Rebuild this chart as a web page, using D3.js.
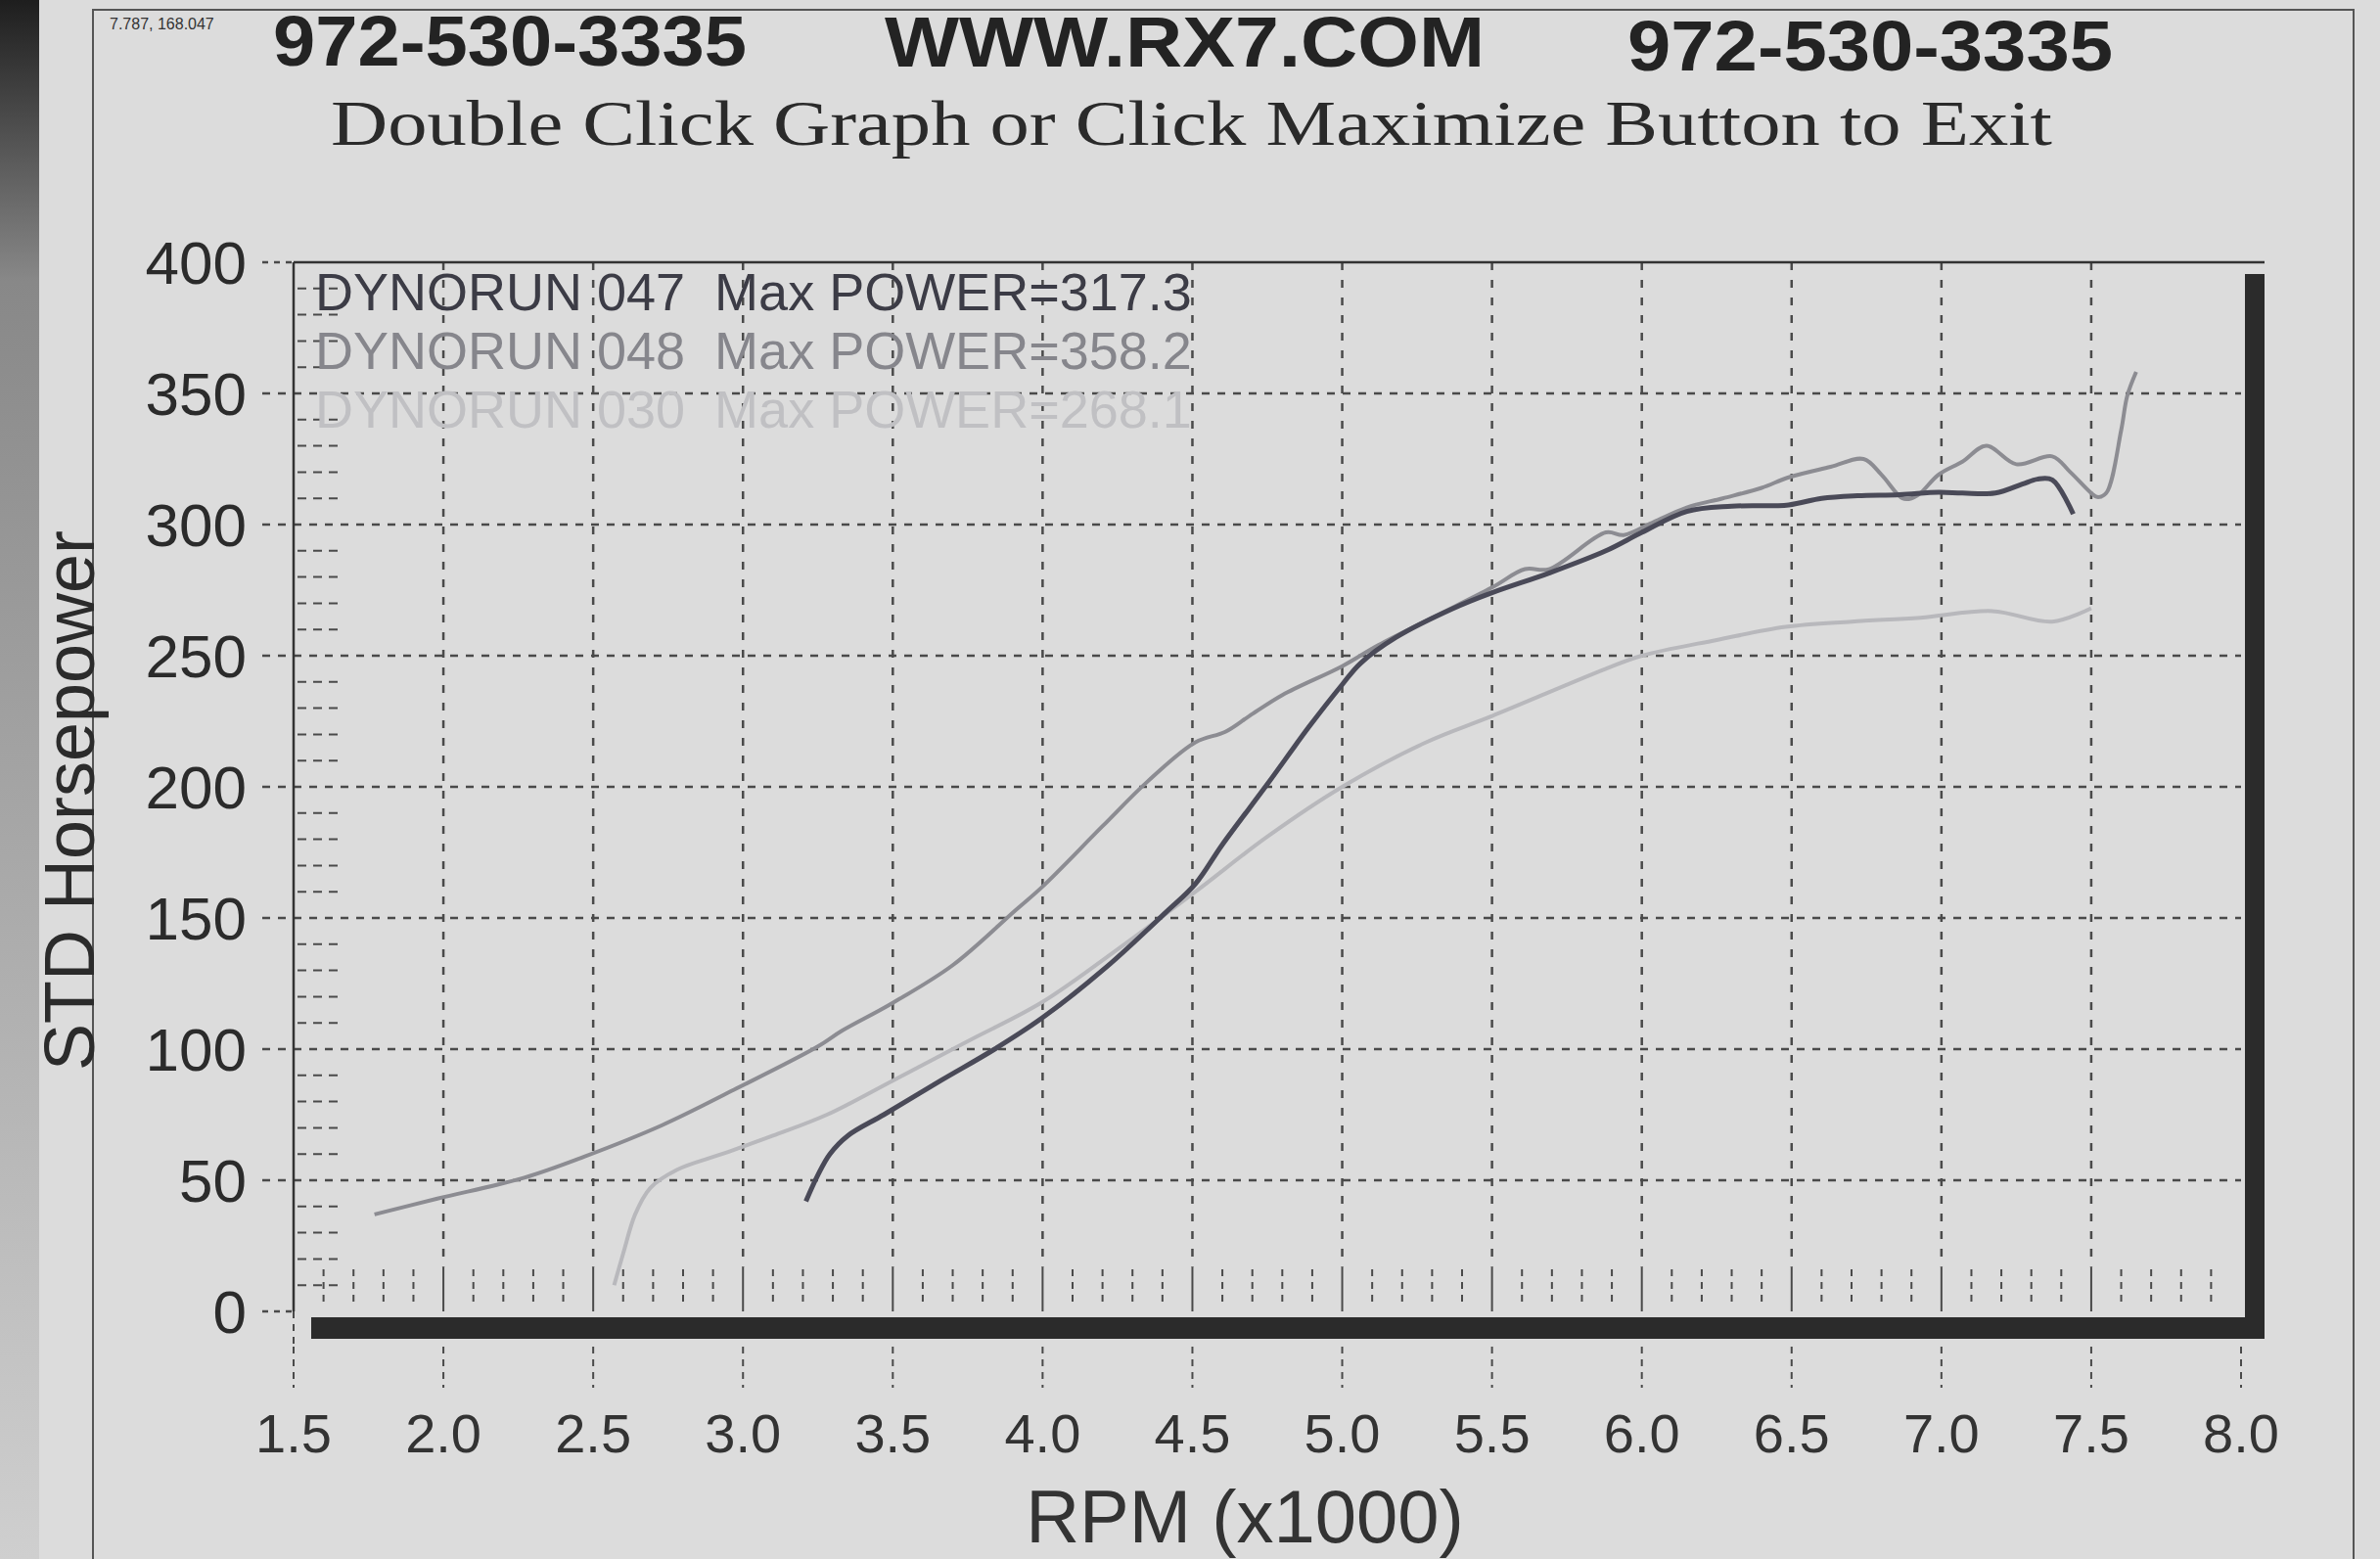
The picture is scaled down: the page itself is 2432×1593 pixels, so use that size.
<!DOCTYPE html>
<html>
<head>
<meta charset="utf-8">
<script src="https://cdnjs.cloudflare.com/ajax/libs/d3/7.8.5/d3.min.js"></script>
<style>
body { margin: 0; background: #dcdcdc; }
svg text { font-family: "Liberation Sans", Arial, sans-serif; }
</style>
</head>
<body>
<div id="chart"></div>
<script>
// axis ticks
var rpmTicks = [1.5, 2.0, 2.5, 3.0, 3.5, 4.0, 4.5, 5.0, 5.5, 6.0, 6.5, 7.0, 7.5, 8.0];
var hpTicks = [0, 50, 100, 150, 200, 250, 300, 350, 400];

// header texts
var phone = "972-530-3335";
var site = "WWW.RX7.COM";
var subtitle = "Double Click Graph or Click Maximize Button to Exit";
var cursorReadout = "7.787, 168.047";

// legend
var runNames = ["DYNORUN 047", "DYNORUN 048", "DYNORUN 030"];
var maxPower = [317.3, 358.2, 268.1];

// run 047 (dark)
var run047Rpm = [3.21, 3.25, 3.29, 3.35, 3.47, 3.66, 3.84, 4.0, 4.21, 4.41, 4.51, 4.6, 4.75, 4.89, 5.0,
                 5.06, 5.18, 5.37, 5.5, 5.69, 5.88, 6.0, 6.15, 6.3, 6.49, 6.6, 6.72, 6.86, 6.99, 7.07,
                 7.18, 7.27, 7.32, 7.37, 7.44];
var run047Hp = [42, 52, 60, 67, 75, 88, 100, 112, 131, 152, 163, 178, 201, 223, 239,
                247, 257, 268, 274, 281.5, 290, 297, 305, 307, 307.5, 310, 311, 311.4, 312.3, 312,
                312, 315.4, 317.3, 317, 304];

// run 048 (medium grey)
var run048Rpm = [1.77, 1.98, 2.27, 2.47, 2.73, 2.97, 3.25, 3.33, 3.49, 3.7, 3.91, 4.0, 4.2, 4.35, 4.51,
                 4.61, 4.69, 4.8, 5.0, 5.12, 5.31, 5.5, 5.61, 5.69, 5.88, 5.94, 6.04, 6.15, 6.27, 6.4,
                 6.49, 6.63, 6.74, 6.8, 6.87, 6.9, 6.93, 6.99, 7.07, 7.15, 7.25, 7.37, 7.43, 7.5, 7.52,
                 7.55, 7.6, 7.62, 7.65];
var run048Hp = [37, 43, 51, 59, 71, 84.5, 101, 107, 117, 132, 153, 162, 185, 202, 217,
                221, 227, 235, 246, 254, 265, 276, 283, 283, 297, 296, 301, 306.5, 310, 314,
                318, 322, 325, 319, 310, 310, 312, 319, 324, 330, 323, 326, 320, 312, 310.5,
                312, 336, 349, 358.2];

// run 030 (light grey)
var run030Rpm = [2.57, 2.6, 2.64, 2.69, 2.78, 2.93, 3.1, 3.28, 3.5, 3.75, 4.0, 4.25, 4.51, 4.75, 5.0,
                 5.28, 5.5, 5.88, 6.0, 6.25, 6.48, 6.7, 6.93, 7.17, 7.37, 7.5];
var run030Hp = [10, 22, 37, 47, 54, 60, 67, 75, 88, 103, 118, 138, 160, 181, 200,
                217, 227, 245, 250, 256, 261, 263, 264.5, 267, 263, 268.1];

var W = 2432, H = 1593;
var plotL = 300, plotR = 2290, plotT = 268, plotB = 1340;

var svg = d3.select("#chart").append("svg")
    .attr("width", W)
    .attr("height", H);

// paper + dark edge of the photo
var defs = svg.append("defs");
var grad = defs.append("linearGradient").attr("id", "edge")
    .attr("x1", 0).attr("y1", 0).attr("x2", 0).attr("y2", 1);
grad.append("stop").attr("offset", "0%").attr("stop-color", "#1e1e1e");
grad.append("stop").attr("offset", "18%").attr("stop-color", "#888");
grad.append("stop").attr("offset", "100%").attr("stop-color", "#cfcfcf");

svg.append("rect").attr("width", W).attr("height", H).attr("fill", "#dcdcdc");
svg.append("rect").attr("x", 0).attr("y", 0).attr("width", 40).attr("height", H).attr("fill", "url(#edge)");

// printout frame
svg.append("path")
    .attr("d", "M95," + H + " L95,10 L2405,10 L2405," + H)
    .attr("fill", "none").attr("stroke", "#555").attr("stroke-width", 2);

svg.append("text").attr("x", 112).attr("y", 30)
    .attr("font-size", 16).attr("fill", "#333")
    .text(cursorReadout);

// header
svg.append("text").attr("x", 279).attr("y", 67)
    .attr("font-size", 72).attr("font-weight", "bold").attr("fill", "#232323")
    .attr("textLength", 484).attr("lengthAdjust", "spacingAndGlyphs")
    .text(phone);
svg.append("text").attr("x", 904).attr("y", 68)
    .attr("font-size", 72).attr("font-weight", "bold").attr("fill", "#232323")
    .attr("textLength", 613).attr("lengthAdjust", "spacingAndGlyphs")
    .text(site);
svg.append("text").attr("x", 1663).attr("y", 72)
    .attr("font-size", 72).attr("font-weight", "bold").attr("fill", "#232323")
    .attr("textLength", 496).attr("lengthAdjust", "spacingAndGlyphs")
    .text(phone);
svg.append("text").attr("x", 338).attr("y", 148)
    .attr("font-size", 66).attr("fill", "#2a2a2a")
    .style("font-family", "'Liberation Serif', 'Times New Roman', serif")
    .attr("textLength", 1759).attr("lengthAdjust", "spacingAndGlyphs")
    .text(subtitle);

// scales
var x = d3.scaleLinear().domain([1.5, 8.0]).range([plotL, plotR]);
var y = d3.scaleLinear().domain([0, 400]).range([plotB, plotT]);

var grid = svg.append("g").attr("stroke", "#4a4a4a").attr("stroke-width", 2.5);

// horizontal grid lines (dashed, running a little left of the axis)
grid.selectAll(".hgrid").data(hpTicks.filter(function(d) { return d > 0 && d < 400; }))
    .enter().append("line")
    .attr("x1", plotL - 32).attr("x2", plotR)
    .attr("y1", function(d) { return y(d); }).attr("y2", function(d) { return y(d); })
    .attr("stroke-dasharray", "8,8");
grid.selectAll(".hstub").data([0, 400]).enter().append("line")
    .attr("x1", plotL - 32).attr("x2", plotL)
    .attr("y1", function(d) { return y(d); }).attr("y2", function(d) { return y(d); })
    .attr("stroke-dasharray", "6,6");

// minor y ticks every 10 hp
var minorHp = d3.range(10, 400, 10).filter(function(d) { return d % 50 !== 0; });
grid.selectAll(".ymin").data(minorHp).enter().append("line")
    .attr("x1", plotL + 4).attr("x2", plotL + 50)
    .attr("y1", function(d) { return y(d); }).attr("y2", function(d) { return y(d); })
    .attr("stroke-dasharray", "9,7").attr("stroke-width", 2);

// vertical grid lines: dashed above, solid in the bottom strip
var innerRpm = rpmTicks.filter(function(d) { return d > 1.5 && d < 8.0; });
grid.selectAll(".vgrid").data(innerRpm).enter().append("line")
    .attr("x1", function(d) { return x(d); }).attr("x2", function(d) { return x(d); })
    .attr("y1", y(400)).attr("y2", y(17))
    .attr("stroke-dasharray", "8,10");
grid.selectAll(".vsolid").data(innerRpm).enter().append("line")
    .attr("x1", function(d) { return x(d); }).attr("x2", function(d) { return x(d); })
    .attr("y1", y(17)).attr("y2", y(0))
    .attr("stroke-width", 2);

// minor x ticks every 0.1
var minorRpm = d3.range(16, 80).map(function(d) { return d / 10; })
    .filter(function(d) { return Math.round(d * 10) % 5 !== 0; });
grid.selectAll(".xmin").data(minorRpm).enter().append("line")
    .attr("x1", function(d) { return x(d); }).attr("x2", function(d) { return x(d); })
    .attr("y1", y(16)).attr("y2", y(2))
    .attr("stroke-dasharray", "7,6").attr("stroke-width", 2);

// tick extensions below the frame
grid.selectAll(".xext").data(rpmTicks).enter().append("line")
    .attr("x1", function(d) { return x(d); }).attr("x2", function(d) { return x(d); })
    .attr("y1", plotB + 36).attr("y2", plotB + 78)
    .attr("stroke-dasharray", "7,6").attr("stroke-width", 2);
grid.append("line")
    .attr("x1", plotL).attr("x2", plotL).attr("y1", plotB).attr("y2", plotB + 36)
    .attr("stroke-dasharray", "7,6").attr("stroke-width", 2);

// frame: thin top/left, heavy right/bottom
svg.append("line").attr("x1", plotL).attr("x2", plotR + 24).attr("y1", plotT).attr("y2", plotT)
    .attr("stroke", "#333").attr("stroke-width", 2.5);
svg.append("line").attr("x1", plotL).attr("x2", plotL).attr("y1", plotT).attr("y2", plotB)
    .attr("stroke", "#333").attr("stroke-width", 2.5);
svg.append("rect").attr("x", plotR + 4).attr("y", plotT + 12).attr("width", 20).attr("height", plotB - plotT + 15)
    .attr("fill", "#2b2b2b");
svg.append("rect").attr("x", plotL + 18).attr("y", plotB + 6).attr("width", plotR - plotL + 6).attr("height", 22)
    .attr("fill", "#2b2b2b");

// axis labels
svg.append("g").selectAll("text").data(hpTicks).enter().append("text")
    .attr("x", 252).attr("y", function(d) { return y(d) + 22; })
    .attr("text-anchor", "end").attr("font-size", 62).attr("fill", "#2b2b2b")
    .text(function(d) { return d; });

svg.append("g").selectAll("text").data(rpmTicks).enter().append("text")
    .attr("x", function(d) { return x(d); }).attr("y", 1484)
    .attr("text-anchor", "middle").attr("font-size", 56).attr("fill", "#333")
    .text(function(d) { return d.toFixed(1); });

svg.append("text")
    .attr("transform", "translate(96,818) rotate(-90)")
    .attr("text-anchor", "middle").attr("font-size", 72).attr("fill", "#2b2b2b")
    .text("STD Horsepower");

svg.append("text")
    .attr("x", 1272).attr("y", 1576)
    .attr("text-anchor", "middle").attr("font-size", 76).attr("fill", "#333")
    .text("RPM (x1000)");

// legend
var legendColors = ["#3c3c46", "#86868c", "#c0c0c3"];
svg.append("g").selectAll("text").data(runNames).enter().append("text")
    .attr("x", plotL + 22).attr("y", function(d, i) { return 317 + i * 60; })
    .attr("font-size", 54).attr("fill", function(d, i) { return legendColors[i]; })
    .attr("xml:space", "preserve")
    .text(function(d, i) { return d + "  Max POWER=" + maxPower[i].toFixed(1); });

// power curves
var valueline = d3.line()
    .x(function(d) { return x(d[0]); })
    .y(function(d) { return y(d[1]); })
    .curve(d3.curveCatmullRom.alpha(0.5));

svg.append("path").datum(d3.zip(run030Rpm, run030Hp))
    .attr("d", valueline).attr("fill", "none")
    .attr("stroke", "#b8b8bc").attr("stroke-width", 4);
svg.append("path").datum(d3.zip(run048Rpm, run048Hp))
    .attr("d", valueline).attr("fill", "none")
    .attr("stroke", "#8c8c92").attr("stroke-width", 4);
svg.append("path").datum(d3.zip(run047Rpm, run047Hp))
    .attr("d", valueline).attr("fill", "none")
    .attr("stroke", "#4a4a58").attr("stroke-width", 5);
</script>
</body>
</html>
